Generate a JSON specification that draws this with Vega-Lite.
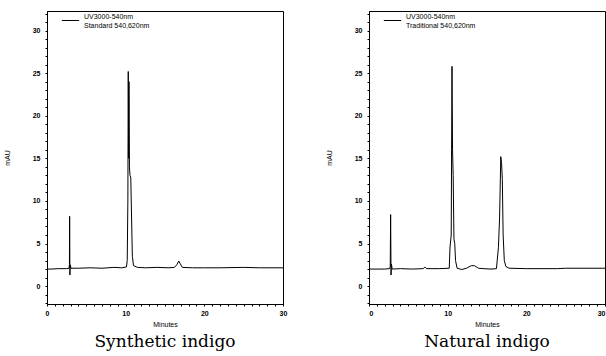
{
  "$schema": "https://vega.github.io/schema/vega-lite/v6.json",
  "padding": {"left": 2, "top": 9, "right": 0, "bottom": 0},
  "spacing": 36,
  "background": "white",
  "config": {
    "view": {"stroke": "black", "strokeWidth": 1},
    "font": "Liberation Sans",
    "axis": {
      "grid": false,
      "domainColor": "black",
      "tickColor": "black",
      "labelColor": "black",
      "titleColor": "black",
      "labelFont": "Liberation Sans",
      "labelFontSize": 7,
      "labelFontWeight": "bold",
      "titleFont": "Liberation Sans",
      "titleFontSize": 7,
      "titleFontWeight": "normal"
    },
    "title": {"font": "DejaVu Serif", "fontSize": 17, "fontWeight": "normal", "color": "black"},
    "legend": {"labelFont": "Liberation Sans", "labelFontSize": 7, "labelColor": "black"}
  },
  "datasets": {
    "synthetic": [
      {"t": 0, "mAU": 2.0}, {"t": 0.5, "mAU": 2.0}, {"t": 1.5, "mAU": 2.05}, {"t": 2.5, "mAU": 2.05},
      {"t": 2.8, "mAU": 2.1}, {"t": 2.85, "mAU": 2.5}, {"t": 2.88, "mAU": 8.2}, {"t": 2.91, "mAU": 1.3},
      {"t": 2.95, "mAU": 2.5}, {"t": 3.05, "mAU": 2.1}, {"t": 4, "mAU": 2.1}, {"t": 5.5, "mAU": 2.15},
      {"t": 7, "mAU": 2.1}, {"t": 8.5, "mAU": 2.2}, {"t": 9.5, "mAU": 2.15}, {"t": 10.1, "mAU": 2.25},
      {"t": 10.2, "mAU": 3}, {"t": 10.28, "mAU": 10}, {"t": 10.33, "mAU": 25.2}, {"t": 10.38, "mAU": 15},
      {"t": 10.42, "mAU": 24}, {"t": 10.48, "mAU": 14}, {"t": 10.55, "mAU": 13}, {"t": 10.65, "mAU": 12.8},
      {"t": 10.75, "mAU": 8}, {"t": 10.85, "mAU": 3.5}, {"t": 11.0, "mAU": 2.4}, {"t": 11.5, "mAU": 2.2},
      {"t": 12.5, "mAU": 2.15}, {"t": 14, "mAU": 2.2}, {"t": 15.5, "mAU": 2.15}, {"t": 16.2, "mAU": 2.2},
      {"t": 16.5, "mAU": 2.5}, {"t": 16.75, "mAU": 2.95}, {"t": 16.95, "mAU": 2.6}, {"t": 17.2, "mAU": 2.2},
      {"t": 18.5, "mAU": 2.15}, {"t": 20, "mAU": 2.15}, {"t": 22, "mAU": 2.15}, {"t": 25, "mAU": 2.2},
      {"t": 27, "mAU": 2.15}, {"t": 30, "mAU": 2.15}
    ],
    "natural": [
      {"t": 0, "mAU": 2.0}, {"t": 1, "mAU": 2.0}, {"t": 2, "mAU": 2.0}, {"t": 2.6, "mAU": 2.05},
      {"t": 2.7, "mAU": 2.3}, {"t": 2.75, "mAU": 8.4}, {"t": 2.8, "mAU": 1.3}, {"t": 2.85, "mAU": 2.6},
      {"t": 2.95, "mAU": 2.0}, {"t": 4, "mAU": 2.05}, {"t": 5.5, "mAU": 2.0}, {"t": 6.9, "mAU": 2.05},
      {"t": 7.1, "mAU": 2.25}, {"t": 7.3, "mAU": 2.05}, {"t": 9, "mAU": 2.05}, {"t": 10.2, "mAU": 2.1},
      {"t": 10.3, "mAU": 4.6}, {"t": 10.45, "mAU": 6}, {"t": 10.55, "mAU": 25.8}, {"t": 10.62, "mAU": 16},
      {"t": 10.7, "mAU": 13}, {"t": 10.8, "mAU": 5.5}, {"t": 10.9, "mAU": 5}, {"t": 11.0, "mAU": 3},
      {"t": 11.2, "mAU": 2.1}, {"t": 11.8, "mAU": 1.95}, {"t": 12.4, "mAU": 2.1}, {"t": 13.0, "mAU": 2.4},
      {"t": 13.4, "mAU": 2.4}, {"t": 13.9, "mAU": 2.1}, {"t": 14.5, "mAU": 2.05}, {"t": 15.5, "mAU": 2.0},
      {"t": 16.2, "mAU": 2.05}, {"t": 16.45, "mAU": 4.5}, {"t": 16.6, "mAU": 8}, {"t": 16.75, "mAU": 15.2},
      {"t": 16.85, "mAU": 14.5}, {"t": 16.95, "mAU": 12.5}, {"t": 17.05, "mAU": 6}, {"t": 17.2, "mAU": 3},
      {"t": 17.4, "mAU": 2.3}, {"t": 17.8, "mAU": 2.1}, {"t": 20, "mAU": 2.05}, {"t": 24, "mAU": 2.05},
      {"t": 25, "mAU": 2.1}, {"t": 30, "mAU": 2.1}
    ]
  },
  "hconcat": [
    {
      "width": 236,
      "height": 293,
      "data": {"name": "synthetic"},
      "title": {"text": "Synthetic indigo", "orient": "bottom", "offset": 7},
      "transform": [{"calculate": "'UV3000-540nm|Standard 540,620nm'", "as": "series"}],
      "mark": {"type": "line", "strokeWidth": 1, "interpolate": "linear"},
      "encoding": {
        "x": {
          "field": "t", "type": "quantitative", "title": "Minutes",
          "scale": {"domain": [0, 30], "nice": false, "zero": false},
          "axis": {
            "values": [0,1,2,3,4,5,6,7,8,9,10,11,12,13,14,15,16,17,18,19,20,21,22,23,24,25,26,27,28,29,30],
            "labelExpr": "datum.value % 10 == 0 ? datum.label : ''",
            "tickSize": 2, "labelPadding": 3, "titlePadding": 4, "labelFlush": false, "labelOverlap": false
          }
        },
        "y": {
          "field": "mAU", "type": "quantitative", "title": "mAU",
          "scale": {"domain": [-2.1, 32.3], "nice": false, "zero": false},
          "axis": {
            "values": [-2,-1,0,1,2,3,4,5,6,7,8,9,10,11,12,13,14,15,16,17,18,19,20,21,22,23,24,25,26,27,28,29,30,31,32],
            "labelExpr": "datum.value % 5 == 0 ? datum.label : ''",
            "tickSize": 2, "labelPadding": 5, "titlePadding": 22, "labelOverlap": false
          }
        },
        "color": {
          "field": "series", "type": "nominal",
          "scale": {"range": ["black"]},
          "legend": {
            "title": null, "orient": "none", "legendX": 14, "legendY": 0, "padding": 0,
            "symbolType": "stroke", "symbolSize": 300, "symbolStrokeWidth": 1,
            "labelBaseline": "line-bottom", "labelOffset": 4,
            "labelExpr": "split(datum.label, '|')", "labelLimit": 200
          }
        }
      }
    },
    {
      "width": 236,
      "height": 293,
      "data": {"name": "natural"},
      "title": {"text": "Natural indigo", "orient": "bottom", "offset": 7},
      "transform": [{"calculate": "'UV3000-540nm|Traditional 540,620nm'", "as": "series"}],
      "mark": {"type": "line", "strokeWidth": 1, "interpolate": "linear"},
      "encoding": {
        "x": {
          "field": "t", "type": "quantitative", "title": "Minutes",
          "scale": {"domain": [0, 30], "nice": false, "zero": false},
          "axis": {
            "values": [0,1,2,3,4,5,6,7,8,9,10,11,12,13,14,15,16,17,18,19,20,21,22,23,24,25,26,27,28,29,30],
            "labelExpr": "datum.value % 10 == 0 ? datum.label : ''",
            "tickSize": 2, "labelPadding": 3, "titlePadding": 4, "labelFlush": true, "labelOverlap": false
          }
        },
        "y": {
          "field": "mAU", "type": "quantitative", "title": "mAU",
          "scale": {"domain": [-2.1, 32.3], "nice": false, "zero": false},
          "axis": {
            "values": [-2,-1,0,1,2,3,4,5,6,7,8,9,10,11,12,13,14,15,16,17,18,19,20,21,22,23,24,25,26,27,28,29,30,31,32],
            "labelExpr": "datum.value % 5 == 0 ? datum.label : ''",
            "tickSize": 2, "labelPadding": 5, "titlePadding": 22, "labelOverlap": false
          }
        },
        "color": {
          "field": "series", "type": "nominal",
          "scale": {"range": ["black"]},
          "legend": {
            "title": null, "orient": "none", "legendX": 14, "legendY": 0, "padding": 0,
            "symbolType": "stroke", "symbolSize": 300, "symbolStrokeWidth": 1,
            "labelBaseline": "line-bottom", "labelOffset": 4,
            "labelExpr": "split(datum.label, '|')", "labelLimit": 200
          }
        }
      }
    }
  ],
  "resolve": {"scale": {"color": "independent"}}
}
